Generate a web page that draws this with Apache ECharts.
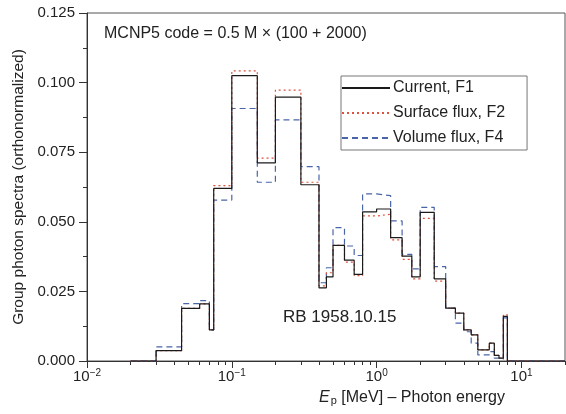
<!DOCTYPE html>
<html>
<head>
<meta charset="utf-8">
<script src="https://cdn.jsdelivr.net/npm/echarts@6/dist/echarts.min.js"></script>
<style>html,body{margin:0;padding:0;background:#fff}#c{width:566px;height:414px}</style>
</head>
<body>
<div id="c"></div>
<script>
// Bin edges in MeV (left edge of each group, plus final right edge)
const binEdges = [0.03, 0.045, 0.06, 0.07, 0.075, 0.1, 0.15, 0.2, 0.3, 0.4, 0.45, 0.5, 0.6, 0.7, 0.8, 1.0, 1.25, 1.5, 1.75, 2.0, 2.5, 3.0, 3.5, 4.0, 4.5, 5.0, 6.0, 6.5, 7.0, 7.5, 8.0];
// Group values (one per bin)
const currentF1 = [0.0037, 0.0189, 0.0205, 0.0112, 0.0620, 0.1025, 0.0712, 0.0948, 0.0633, 0.0263, 0.0302, 0.0415, 0.0362, 0.0311, 0.0536, 0.0546, 0.0443, 0.0377, 0.0302, 0.0534, 0.0295, 0.0190, 0.0172, 0.0112, 0.0094, 0.0040, 0.0064, 0.0020, 0.0010, 0.0160];
const surfaceF2 = [0.0037, 0.0189, 0.0205, 0.0112, 0.0630, 0.1042, 0.0729, 0.0973, 0.0642, 0.0270, 0.0317, 0.0415, 0.0355, 0.0307, 0.0521, 0.0527, 0.0435, 0.0365, 0.0295, 0.0512, 0.0287, 0.0190, 0.0172, 0.0112, 0.0094, 0.0040, 0.0064, 0.0020, 0.0010, 0.0166];
const volumeF4 = [0.0051, 0.0206, 0.0217, 0.0112, 0.0578, 0.0907, 0.0642, 0.0866, 0.0698, 0.0281, 0.0335, 0.0479, 0.0413, 0.0379, 0.0600, 0.0594, 0.0503, 0.0383, 0.0331, 0.0552, 0.0339, 0.0190, 0.0136, 0.0105, 0.0064, 0.0022, 0.0034, 0.0010, 0.0005, 0.0155];
const seriesNames = ['Current, F1', 'Surface flux, F2', 'Volume flux, F4'];
const xRange = [0.01, 20];
const majorTicksX = [0.01, 0.1, 1, 10];
const minorTicksX = [0.02,0.03,0.04,0.05,0.06,0.07,0.08,0.09,0.2,0.3,0.4,0.5,0.6,0.7,0.8,0.9,2,3,4,5,6,7,8,9,20];

function stepData(vals) {
  const d = [[0.02, 0]];
  for (let i = 0; i < vals.length; i++) d.push([binEdges[i], vals[i]]);
  d.push([binEdges[binEdges.length - 1], 0]);
  d.push([xRange[1], 0]);
  return d;
}
const FONT = 'Liberation Sans, Arial, Helvetica, sans-serif';
const chart = echarts.init(document.getElementById('c'), null, {renderer: 'canvas'});
const supMap = {'-2': '−2', '-1': '−1', '0': '0', '1': '1'};
chart.setOption({
  backgroundColor: '#fff',
  animation: false,
  textStyle: {fontFamily: FONT},
  title: [
    {text: 'MCNP5 code = 0.5 M × (100 + 2000)', left: 104, top: 26, textStyle: {fontSize: 16, fontWeight: 'normal', color: '#222', fontFamily: FONT}, padding: 0},
    {text: 'RB 1958.10.15', left: 283, top: 309, textStyle: {fontSize: 17, fontWeight: 'normal', color: '#222', fontFamily: FONT}, padding: 0}
  ],
  legend: {
    orient: 'vertical', left: 341, top: 76,
    itemWidth: 48, itemHeight: 10, itemGap: 9,
    backgroundColor: '#fff',
    borderColor: '#777', borderWidth: 1,
    padding: [4, 22, 4, 0],
    itemStyle: {opacity: 0, borderWidth: 0},
    textStyle: {fontSize: 16, color: '#222', fontFamily: FONT, padding: [0, 0, 0, -2]},
    data: seriesNames
  },
  grid: {left: 87, right: 1, top: 13, bottom: 53, show: true, borderColor: '#555', borderWidth: 1, backgroundColor: 'transparent'},
  xAxis: [{
    type: 'log', logBase: 10, min: xRange[0], max: xRange[1],
    axisLine: {show: true, lineStyle: {color: '#333', width: 1}},
    axisTick: {show: true, length: 7, lineStyle: {color: '#333'}, customValues: majorTicksX},
    axisLabel: {
      customValues: majorTicksX, margin: 7, color: '#222', fontSize: 15, fontFamily: FONT,
      formatter: function (v) { const e = Math.round(Math.log10(v)); return '10{s|' + supMap[String(e)] + '}'; },
      rich: {s: {fontSize: 10, verticalAlign: 'top', padding: [0, 0, 8, 0], fontFamily: FONT, color: '#222'}}
    },
    splitLine: {show: false},
    name: '{i|E}{sub|p} [MeV] – Photon energy',
    nameLocation: 'middle', nameGap: 19,
    nameTextStyle: {
      fontSize: 16, color: '#222', fontFamily: FONT, padding: [0, 0, 0, 172],
      rich: {i: {fontStyle: 'italic', fontSize: 16, fontFamily: FONT, color: '#222'}, sub: {fontSize: 11, fontFamily: FONT, color: '#222', padding: [8, 0, 0, 1]}}
    }
  }, {
    type: 'log', logBase: 10, min: xRange[0], max: xRange[1], position: 'bottom',
    axisLine: {show: false},
    axisTick: {show: true, length: 4, lineStyle: {color: '#333'}, customValues: minorTicksX},
    axisLabel: {show: false},
    splitLine: {show: false}
  }],
  yAxis: {
    type: 'value', min: 0, max: 0.125, interval: 0.025,
    axisLine: {show: true, lineStyle: {color: '#333'}},
    axisTick: {show: true, length: 8, lineStyle: {color: '#333'}},
    minorTick: {show: true, splitNumber: 2, length: 4, lineStyle: {color: '#333'}},
    axisLabel: {formatter: v => v.toFixed(3), color: '#222', fontSize: 15, margin: 12, fontFamily: FONT},
    splitLine: {show: false},
    name: 'Group photon spectra (orthonormalized)',
    nameLocation: 'middle', nameGap: 54,
    nameTextStyle: {fontSize: 15.5, color: '#222', fontFamily: FONT}
  },
  series: [
    {name: seriesNames[0], type: 'line', step: 'end', symbol: 'none', data: stepData(currentF1), lineStyle: {color: '#1a1a1a', width: 1.2, type: 'solid'}, itemStyle: {color: '#1a1a1a'}, z: 3},
    {name: seriesNames[1], type: 'line', step: 'end', symbol: 'none', data: stepData(surfaceF2), lineStyle: {color: '#e0503c', width: 1.2, type: [2, 3]}, itemStyle: {color: '#e0503c'}, z: 2},
    {name: seriesNames[2], type: 'line', step: 'end', symbol: 'none', data: stepData(volumeF4), lineStyle: {color: '#4a64a8', width: 1.2, type: [6, 4]}, itemStyle: {color: '#4a64a8'}, z: 1}
  ]
});
</script>
</body>
</html>
